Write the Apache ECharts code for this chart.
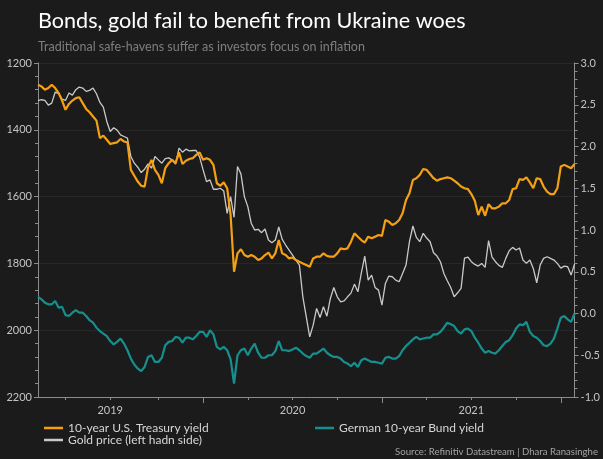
<!DOCTYPE html>
<html>
<head>
<meta charset="utf-8">
<script src="https://cdn.jsdelivr.net/npm/echarts@6/dist/echarts.min.js"></script>
<style>
  html, body { margin: 0; padding: 0; background: #1b1b1b; }
  #chart { width: 603px; height: 459px; }
</style>
</head>
<body>
<div id="chart"></div>
<script>
// Weekly observations, Friday closes starting 1 Feb 2019
const firstWeek = '2019-02-01';
const weekCount = 157;

// 10-year U.S. Treasury yield, % (right axis)
const usYield = [2.74,2.72,2.68,2.70,2.74,2.70,2.64,2.55,2.44,2.51,
  2.55,2.58,2.59,2.52,2.45,2.41,2.36,2.31,2.10,2.13,
  2.08,2.03,2.04,2.05,2.09,2.06,2.05,1.72,1.65,1.58,
  1.53,1.52,1.75,1.84,1.72,1.66,1.56,1.74,1.80,1.84,
  1.80,1.93,1.79,1.83,1.85,1.86,1.90,1.93,1.84,1.86,
  1.84,1.78,1.56,1.53,1.57,1.50,1.18,0.50,0.72,0.77,
  0.70,0.68,0.70,0.68,0.64,0.66,0.70,0.73,0.66,0.72,
  0.88,0.72,0.70,0.66,0.67,0.64,0.62,0.60,0.58,0.56,
  0.66,0.68,0.68,0.72,0.69,0.68,0.68,0.72,0.78,0.77,
  0.78,0.86,0.96,0.92,0.88,0.85,0.92,0.90,0.92,0.94,
  0.93,1.12,1.10,1.06,1.08,1.12,1.20,1.36,1.44,1.60,
  1.62,1.66,1.73,1.72,1.67,1.62,1.59,1.61,1.62,1.63,
  1.62,1.59,1.56,1.52,1.50,1.49,1.43,1.35,1.18,1.28,
  1.17,1.31,1.26,1.26,1.28,1.32,1.32,1.36,1.49,1.50,
  1.61,1.60,1.63,1.57,1.50,1.62,1.61,1.52,1.46,1.43,
  1.43,1.50,1.76,1.78,1.76,1.74,1.79];

// Gold price, $/oz (left axis, inverted)
const goldPrice = [1313,1310,1312,1326,1320,1287,1292,1308,1312,1290,
  1296,1280,1272,1275,1285,1282,1275,1292,1318,1332,
  1375,1405,1394,1401,1415,1420,1425,1480,1500,1512,
  1528,1518,1502,1515,1480,1490,1500,1486,1484,1490,
  1503,1455,1467,1458,1463,1462,1462,1482,1520,1555,
  1550,1578,1578,1575,1583,1650,1600,1662,1510,1532,
  1600,1630,1680,1700,1698,1708,1697,1730,1738,1730,
  1691,1728,1745,1760,1775,1790,1805,1900,1960,2020,
  1985,1935,1962,1930,1958,1905,1872,1900,1915,1912,
  1900,1889,1862,1885,1829,1778,1850,1835,1872,1880,
  1925,1860,1838,1840,1850,1855,1830,1805,1735,1688,
  1722,1735,1710,1724,1735,1768,1778,1795,1830,1852,
  1872,1900,1888,1875,1784,1781,1795,1803,1808,1800,
  1812,1732,1781,1795,1806,1812,1785,1762,1752,1760,
  1754,1790,1800,1790,1815,1858,1805,1785,1780,1785,
  1790,1800,1814,1808,1810,1835,1802];

// German 10-year Bund yield, % (right axis)
const bundYield = [0.20,0.17,0.13,0.11,0.11,0.15,0.07,0.08,-0.02,-0.03,
  0.01,0.04,0.01,0.01,-0.03,-0.08,-0.11,-0.17,-0.21,-0.24,
  -0.27,-0.33,-0.37,-0.34,-0.30,-0.36,-0.44,-0.54,-0.61,-0.66,
  -0.69,-0.64,-0.52,-0.50,-0.58,-0.58,-0.53,-0.38,-0.34,-0.33,
  -0.28,-0.29,-0.35,-0.29,-0.29,-0.31,-0.27,-0.22,-0.22,-0.28,
  -0.20,-0.25,-0.40,-0.43,-0.40,-0.44,-0.55,-0.84,-0.50,-0.44,
  -0.42,-0.50,-0.42,-0.36,-0.47,-0.53,-0.53,-0.50,-0.50,-0.45,
  -0.33,-0.44,-0.44,-0.45,-0.43,-0.41,-0.44,-0.48,-0.51,-0.53,
  -0.48,-0.48,-0.45,-0.42,-0.47,-0.50,-0.52,-0.52,-0.54,-0.58,
  -0.60,-0.63,-0.59,-0.64,-0.56,-0.54,-0.56,-0.58,-0.58,-0.59,
  -0.60,-0.53,-0.52,-0.54,-0.54,-0.51,-0.44,-0.39,-0.35,-0.31,
  -0.28,-0.31,-0.30,-0.29,-0.29,-0.25,-0.25,-0.22,-0.17,-0.11,
  -0.13,-0.15,-0.21,-0.24,-0.19,-0.18,-0.21,-0.29,-0.35,-0.42,
  -0.47,-0.45,-0.47,-0.48,-0.44,-0.39,-0.34,-0.32,-0.26,-0.18,
  -0.13,-0.14,-0.10,-0.22,-0.27,-0.29,-0.33,-0.38,-0.39,-0.36,
  -0.30,-0.18,-0.05,-0.03,-0.07,-0.10,0.00];

const goldTicks = [1200, 2200, 200];   // min, max, step
const yieldTicks = [-1, 3, 0.5];

const seriesNames = {
  us: '10-year U.S. Treasury yield',
  gold: 'Gold price (left hadn side)',
  bund: 'German 10-year Bund yield'
};

const DAY = 86400000;
const weeks = [];
for (let i = 0, t0 = Date.parse(firstWeek); i < weekCount; i++) {
  weeks.push(new Date(t0 + i * 7 * DAY).toISOString().slice(0, 10));
}

// true when the week falls on (nearest to) the 1st of one of the given months
function nearMonthStart(i, months) {
  const t = Date.parse(weeks[i]);
  const y = new Date(t).getUTCFullYear();
  for (const yy of [y - 1, y, y + 1]) {
    for (const m of months) {
      const diff = (t - Date.UTC(yy, m, 1)) / DAY;
      if (diff >= -3.5 && diff < 3.5) return true;
    }
  }
  return false;
}

const FONT = 'Lato, "Noto Sans", sans-serif';
const axisGrey = '#8c8c8c';
const labelGrey = '#c4c4c4';

const chart = echarts.init(document.getElementById('chart'), null, { renderer: 'canvas' });

chart.setOption({
  backgroundColor: '#1b1b1b',
  animation: false,
  textStyle: { fontFamily: FONT },
  title: [
    {
      text: 'Bonds, gold fail to benefit from Ukraine woes',
      left: 38, top: 10, padding: 0,
      textStyle: { color: '#ffffff', fontSize: 21.6, fontWeight: 'normal', fontFamily: FONT }
    },
    {
      text: 'Traditional safe-havens suffer as investors focus on inflation',
      left: 38, top: 40, padding: 0,
      textStyle: { color: '#7e7e7e', fontSize: 12.5, fontWeight: 'normal', fontFamily: FONT }
    },
    {
      text: 'Source: Refinitiv Datastream | Dhara Ranasinghe',
      right: 5, top: 447, padding: 0,
      textStyle: { color: '#a3a3a3', fontSize: 9.6, fontWeight: 'normal', fontFamily: FONT }
    }
  ],
  legend: [
    {
      data: [seriesNames.us, seriesNames.gold],
      orient: 'vertical',
      left: 44, top: 422, padding: 0,
      itemGap: 0, itemWidth: 19, itemHeight: 2.5,
      icon: 'rect', selectedMode: false,
      textStyle: { color: '#d6d6d6', fontSize: 12, lineHeight: 12, fontFamily: FONT }
    },
    {
      data: [seriesNames.bund],
      orient: 'vertical',
      left: 315, top: 422, padding: 0,
      itemGap: 0, itemWidth: 19, itemHeight: 2.5,
      icon: 'rect', selectedMode: false,
      textStyle: { color: '#d6d6d6', fontSize: 12, lineHeight: 12, fontFamily: FONT }
    }
  ],
  grid: { left: 38, right: 23, top: 63, bottom: 62, containLabel: false },
  xAxis: [
    {
      type: 'category',
      data: weeks,
      boundaryGap: false,
      axisLine: { onZero: false, lineStyle: { color: axisGrey, width: 1 } },
      axisTick: {
        length: 3, lineStyle: { color: axisGrey },
        interval: (i) => nearMonthStart(i, [0, 3, 6, 9])
      },
      axisLabel: {
        color: labelGrey, fontSize: 11, margin: 8, fontFamily: FONT,
        interval: (i) => nearMonthStart(i, [6]),
        formatter: (v) => v.slice(0, 4)
      },
      splitLine: { show: false }
    },
    {
      type: 'category',
      data: weeks,
      boundaryGap: false,
      position: 'bottom',
      axisLine: { show: false, onZero: false },
      axisTick: {
        length: 6, lineStyle: { color: axisGrey },
        interval: (i) => nearMonthStart(i, [0])
      },
      axisLabel: { show: false },
      splitLine: { show: false }
    }
  ],
  yAxis: [
    {
      type: 'value',
      inverse: true,
      min: goldTicks[0], max: goldTicks[1], interval: goldTicks[2],
      position: 'left',
      axisLine: { show: true, lineStyle: { color: axisGrey } },
      axisTick: { show: true, length: 4, lineStyle: { color: axisGrey } },
      minorTick: { show: true, splitNumber: 5, length: 3, lineStyle: { color: axisGrey } },
      axisLabel: {
        color: labelGrey, fontSize: 11, margin: 6, fontFamily: FONT,
        formatter: (v) => String(v)
      },
      splitLine: { show: true, lineStyle: { color: '#272727', width: 1 } }
    },
    {
      type: 'value',
      min: yieldTicks[0], max: yieldTicks[1], interval: yieldTicks[2],
      position: 'right',
      axisLine: { show: true, lineStyle: { color: axisGrey } },
      axisTick: { show: true, length: 4, lineStyle: { color: axisGrey } },
      minorTick: { show: true, splitNumber: 5, length: 3, lineStyle: { color: axisGrey } },
      axisLabel: {
        color: labelGrey, fontSize: 11, margin: 6, fontFamily: FONT,
        formatter: (v) => v.toFixed(1)
      },
      splitLine: { show: false }
    }
  ],
  series: [
    {
      name: seriesNames.gold,
      type: 'line',
      xAxisIndex: 0, yAxisIndex: 0,
      data: goldPrice,
      showSymbol: false,
      lineStyle: { color: '#c9c9c9', width: 1.3 },
      itemStyle: { color: '#c9c9c9' },
      z: 2
    },
    {
      name: seriesNames.us,
      type: 'line',
      xAxisIndex: 0, yAxisIndex: 1,
      data: usYield,
      showSymbol: false,
      lineStyle: { color: '#f5a012', width: 2.2 },
      itemStyle: { color: '#f5a012' },
      z: 3
    },
    {
      name: seriesNames.bund,
      type: 'line',
      xAxisIndex: 0, yAxisIndex: 1,
      data: bundYield,
      showSymbol: false,
      lineStyle: { color: '#15908f', width: 2.2 },
      itemStyle: { color: '#15908f' },
      z: 3
    }
  ]
});
</script>
</body>
</html>
